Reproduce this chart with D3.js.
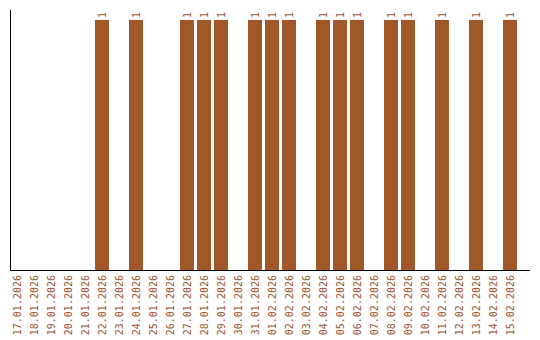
<!DOCTYPE html>
<html>
<head>
<meta charset="utf-8">
<script src="https://cdnjs.cloudflare.com/ajax/libs/d3/7.8.5/d3.min.js"></script>
<style>
  body { margin: 0; background: #fff; }
  text { font-family: "DejaVu Sans Mono", monospace; font-size: 10px; fill: #a0522d; }
</style>
</head>
<body>
<svg class="chart"></svg>
<script>
// days shown on the x axis
let days = ["17.01.2026","18.01.2026","19.01.2026","20.01.2026","21.01.2026","22.01.2026",
  "23.01.2026","24.01.2026","25.01.2026","26.01.2026","27.01.2026","28.01.2026","29.01.2026",
  "30.01.2026","31.01.2026","01.02.2026","02.02.2026","03.02.2026","04.02.2026","05.02.2026",
  "06.02.2026","07.02.2026","08.02.2026","09.02.2026","10.02.2026","11.02.2026","12.02.2026",
  "13.02.2026","14.02.2026","15.02.2026"]

let counts = [0,0,0,0,0,1,0,1,0,0,1,1,1,0,1,1,1,0,1,1,1,0,1,1,0,1,0,1,0,1]

let data = days.map(function(d, i) { return { day: d, count: counts[i] } })

let width = 540
let height = 340
let margin = { left: 10, right: 530, top: 10, bottom: 270 }

let svg = d3.select(".chart")
    .attr("width", width)
    .attr("height", height)

let x = d3.scaleBand()
    .domain(days)
    .range([margin.left, 517])
    .paddingInner(3 / 17)
    .paddingOuter(0)

let y = d3.scaleLinear()
    .domain([0, 1.04])
    .range([margin.bottom, margin.top])

let filled = data.filter(function(d) { return d.count > 0 })

svg.selectAll(".bar")
    .data(filled)
  .enter().append("rect")
    .attr("class", "bar")
    .attr("x", function(d) { return x(d.day) })
    .attr("y", function(d) { return y(d.count) })
    .attr("width", x.bandwidth())
    .attr("height", function(d) { return y(0) - y(d.count) })
    .attr("fill", "#a0572a")

// value labels, rotated
svg.selectAll(".val")
    .data(filled)
  .enter().append("text")
    .attr("class", "val")
    .attr("transform", function(d) {
      return "translate(" + (x(d.day) + x.bandwidth() / 2 + 3.5) + "," + (y(d.count) - 2) + ") rotate(-90)"
    })
    .text(function(d) { return d.count })

// x labels
svg.selectAll(".xl")
    .data(days)
  .enter().append("text")
    .attr("class", "xl")
    .attr("text-anchor", "end")
    .attr("transform", function(d) {
      return "translate(" + (x(d) + x.bandwidth() / 2 + 3.5) + "," + (margin.bottom + 5) + ") rotate(-90)"
    })
    .text(function(d) { return d })

svg.append("line")
    .attr("x1", margin.left + 0.5).attr("x2", margin.left + 0.5)
    .attr("y1", margin.top).attr("y2", margin.bottom)
    .attr("stroke", "#000")

svg.append("line")
    .attr("x1", margin.left).attr("x2", margin.right)
    .attr("y1", margin.bottom + 0.5).attr("y2", margin.bottom + 0.5)
    .attr("stroke", "#000")
</script>
</body>
</html>
